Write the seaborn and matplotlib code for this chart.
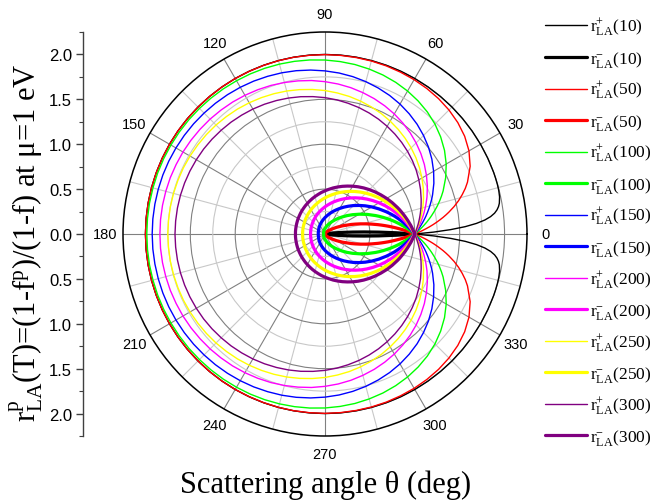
import numpy as np
import pandas as pd
import matplotlib
matplotlib.use("Agg")
import matplotlib.pyplot as plt
import seaborn as sns
from matplotlib.ticker import FixedLocator

sns.set_theme(style="white")
plt.rcParams["font.family"] = ["Liberation Serif", "DejaVu Serif"]
plt.rcParams["mathtext.fontset"] = "custom"
plt.rcParams["mathtext.rm"] = "Liberation Serif"
plt.rcParams["mathtext.it"] = "Liberation Serif:italic"
plt.rcParams["mathtext.bf"] = "Liberation Serif:bold"
for key in ("text.color", "axes.labelcolor", "xtick.color", "ytick.color"):
    plt.rcParams[key] = "black"

# scattering angle (deg) for the upper half; the lower half is its mirror image
angles = [0, 1, 2, 3, 4, 5, 6, 7, 8, 9, 10, 12, 14, 16, 18,
          20, 25, 30, 35, 40, 45, 50, 55, 60, 65, 70, 75, 80, 85,
          90, 95, 100, 105, 110, 115, 120, 125, 130, 135, 140, 145, 150,
          155, 160, 165, 170, 175, 180]
temps = [10, 50, 100, 150, 200, 250, 300]
colors = ["#000000", "#ff0000", "#00ff00", "#0000ff", "#ff00ff", "#ffff00", "#800080"]

r_plus_10 = [1.000, 1.210, 1.401, 1.564, 1.691, 1.787, 1.855, 1.903, 1.935, 1.957,
             1.972, 1.988, 1.995, 1.998, 1.999,
             2.000, 2.000, 2.000, 2.000, 2.000, 2.000, 2.000, 2.000, 2.000, 2.000,
             2.000, 2.000, 2.000, 2.000,
             2.000, 2.000, 2.000, 2.000, 2.000, 2.000, 2.000, 2.000, 2.000, 2.000,
             2.000, 2.000, 2.000, 2.000, 2.000, 2.000, 2.000, 2.000, 2.000]
r_minus_10 = [1.000, 0.790, 0.599, 0.436, 0.309, 0.213, 0.145, 0.097, 0.065, 0.043,
              0.028, 0.012, 0.005, 0.002, 0.001,
              0.000, 0.000, 0.000, 0.000, 0.000, 0.000, 0.000, 0.000, 0.000, 0.000,
              0.000, 0.000, 0.000, 0.000,
              0.000, 0.000, 0.000, 0.000, 0.000, 0.000, 0.000, 0.000, 0.000, 0.000,
              0.000, 0.000, 0.000, 0.000, 0.000, 0.000, 0.000, 0.000, 0.000]
r_plus_50 = [1.000, 1.043, 1.085, 1.127, 1.169, 1.210, 1.250, 1.289, 1.328, 1.365,
             1.401, 1.470, 1.533, 1.590, 1.643,
             1.689, 1.784, 1.852, 1.899, 1.931, 1.953, 1.968, 1.978, 1.985, 1.989,
             1.993, 1.995, 1.996, 1.997,
             1.998, 1.998, 1.999, 1.999, 1.999, 1.999, 2.000, 2.000, 2.000, 2.000,
             2.000, 2.000, 2.000, 2.000, 2.000, 2.000, 2.000, 2.000, 2.000]
r_minus_50 = [1.000, 0.957, 0.915, 0.873, 0.831, 0.790, 0.750, 0.711, 0.672, 0.635,
              0.599, 0.530, 0.467, 0.410, 0.357,
              0.311, 0.216, 0.148, 0.101, 0.069, 0.047, 0.032, 0.022, 0.015, 0.011,
              0.007, 0.005, 0.004, 0.003,
              0.002, 0.002, 0.001, 0.001, 0.001, 0.001, 0.000, 0.000, 0.000, 0.000,
              0.000, 0.000, 0.000, 0.000, 0.000, 0.000, 0.000, 0.000, 0.000]
r_plus_100 = [1.000, 1.021, 1.043, 1.064, 1.085, 1.106, 1.127, 1.148, 1.168, 1.189,
              1.209, 1.249, 1.289, 1.327, 1.364,
              1.400, 1.483, 1.559, 1.625, 1.682, 1.732, 1.774, 1.809, 1.839, 1.864,
              1.885, 1.902, 1.917, 1.928,
              1.938, 1.946, 1.953, 1.959, 1.964, 1.968, 1.971, 1.974, 1.976, 1.978,
              1.980, 1.981, 1.982, 1.983, 1.984, 1.984, 1.985, 1.985, 1.985]
r_minus_100 = [1.000, 0.979, 0.958, 0.936, 0.915, 0.894, 0.873, 0.852, 0.832, 0.811,
               0.791, 0.751, 0.711, 0.673, 0.636,
               0.600, 0.517, 0.441, 0.375, 0.318, 0.268, 0.226, 0.191, 0.161, 0.136,
               0.115, 0.098, 0.084, 0.072,
               0.062, 0.054, 0.047, 0.041, 0.036, 0.032, 0.029, 0.026, 0.024, 0.022,
               0.020, 0.019, 0.018, 0.017, 0.016, 0.016, 0.015, 0.015, 0.015]
r_plus_150 = [1.000, 1.014, 1.028, 1.043, 1.057, 1.071, 1.085, 1.099, 1.113, 1.127,
              1.141, 1.168, 1.195, 1.222, 1.249,
              1.275, 1.338, 1.397, 1.453, 1.505, 1.552, 1.596, 1.635, 1.671, 1.703,
              1.731, 1.757, 1.780, 1.800,
              1.817, 1.833, 1.847, 1.859, 1.869, 1.879, 1.887, 1.894, 1.900, 1.905,
              1.910, 1.914, 1.917, 1.920, 1.922, 1.923, 1.924, 1.925, 1.925]
r_minus_150 = [1.000, 0.986, 0.972, 0.958, 0.943, 0.929, 0.915, 0.901, 0.887, 0.873,
               0.859, 0.832, 0.805, 0.778, 0.751,
               0.725, 0.662, 0.603, 0.547, 0.495, 0.448, 0.404, 0.365, 0.329, 0.297,
               0.269, 0.243, 0.220, 0.200,
               0.183, 0.167, 0.153, 0.141, 0.131, 0.121, 0.113, 0.106, 0.100, 0.095,
               0.090, 0.086, 0.083, 0.080, 0.078, 0.077, 0.076, 0.075, 0.075]
r_plus_200 = [1.000, 1.011, 1.021, 1.032, 1.043, 1.053, 1.064, 1.074, 1.085, 1.095,
              1.106, 1.127, 1.147, 1.168, 1.188,
              1.209, 1.258, 1.305, 1.351, 1.394, 1.435, 1.474, 1.510, 1.544, 1.575,
              1.604, 1.630, 1.655, 1.677,
              1.697, 1.716, 1.732, 1.747, 1.761, 1.773, 1.784, 1.794, 1.802, 1.810,
              1.816, 1.822, 1.827, 1.830, 1.834, 1.836, 1.838, 1.839, 1.839]
r_minus_200 = [1.000, 0.989, 0.979, 0.968, 0.958, 0.947, 0.936, 0.926, 0.915, 0.905,
               0.894, 0.873, 0.853, 0.832, 0.812,
               0.792, 0.742, 0.695, 0.649, 0.606, 0.565, 0.526, 0.490, 0.456, 0.425,
               0.396, 0.370, 0.345, 0.323,
               0.303, 0.284, 0.268, 0.253, 0.239, 0.227, 0.216, 0.206, 0.198, 0.190,
               0.184, 0.178, 0.174, 0.170, 0.166, 0.164, 0.162, 0.161, 0.161]
r_plus_250 = [1.000, 1.009, 1.017, 1.026, 1.034, 1.043, 1.051, 1.059, 1.068, 1.076,
              1.085, 1.102, 1.118, 1.135, 1.151,
              1.168, 1.208, 1.247, 1.285, 1.322, 1.357, 1.390, 1.422, 1.452, 1.481,
              1.507, 1.532, 1.556, 1.577,
              1.598, 1.616, 1.633, 1.649, 1.663, 1.676, 1.688, 1.699, 1.708, 1.717,
              1.724, 1.730, 1.736, 1.741, 1.744, 1.747, 1.749, 1.750, 1.751]
r_minus_250 = [1.000, 0.992, 0.983, 0.975, 0.966, 0.958, 0.949, 0.941, 0.932, 0.924,
               0.915, 0.899, 0.882, 0.865, 0.849,
               0.832, 0.792, 0.753, 0.715, 0.678, 0.643, 0.610, 0.578, 0.548, 0.519,
               0.493, 0.468, 0.444, 0.423,
               0.403, 0.384, 0.367, 0.351, 0.337, 0.324, 0.312, 0.301, 0.292, 0.283,
               0.276, 0.270, 0.264, 0.259, 0.256, 0.253, 0.251, 0.250, 0.249]
r_plus_300 = [1.000, 1.007, 1.014, 1.021, 1.028, 1.035, 1.043, 1.050, 1.057, 1.064,
              1.071, 1.085, 1.099, 1.113, 1.126,
              1.140, 1.174, 1.207, 1.240, 1.271, 1.301, 1.330, 1.358, 1.385, 1.411,
              1.435, 1.458, 1.479, 1.500,
              1.519, 1.536, 1.553, 1.568, 1.582, 1.595, 1.607, 1.617, 1.627, 1.635,
              1.643, 1.650, 1.655, 1.660, 1.664, 1.667, 1.669, 1.670, 1.671]
r_minus_300 = [1.000, 0.993, 0.986, 0.979, 0.972, 0.965, 0.958, 0.950, 0.943, 0.936,
               0.929, 0.915, 0.901, 0.887, 0.874,
               0.860, 0.826, 0.793, 0.760, 0.729, 0.699, 0.670, 0.642, 0.615, 0.589,
               0.565, 0.542, 0.521, 0.500,
               0.481, 0.464, 0.447, 0.432, 0.418, 0.405, 0.393, 0.383, 0.373, 0.365,
               0.357, 0.350, 0.345, 0.340, 0.336, 0.333, 0.331, 0.330, 0.329]

r_plus = [r_plus_10, r_plus_50, r_plus_100, r_plus_150, r_plus_200, r_plus_250, r_plus_300]
r_minus = [r_minus_10, r_minus_50, r_minus_100, r_minus_150, r_minus_200, r_minus_250, r_minus_300]

angle_ticks = [0, 30, 60, 90, 120, 150, 180, 210, 240, 270, 300, 330]
radial_ticks = [-2.0, -1.5, -1.0, -0.5, 0.0, 0.5, 1.0, 1.5, 2.0]

# full closed curve: 0..180 followed by the mirrored half 180..360
theta_deg = angles + [360 - a for a in angles[::-1]]

rows = []
for T, rp, rm in zip(temps, r_plus, r_minus):
    for sign, vals in (("+", rp), ("-", rm)):
        full = vals + vals[::-1]
        for th, r in zip(theta_deg, full):
            rows.append({"T": T, "sign": sign, "theta": np.deg2rad(th), "r": r})
df = pd.DataFrame(rows)

W, H = 655, 502
fig = plt.figure(figsize=(W / 100, H / 100), dpi=100)

ax = fig.add_axes([123 / W, 65 / H, 404 / W, 404 / H], projection="polar")
ax.set_axisbelow(True)

for T, c in zip(temps, colors):
    for sign, lw in (("+", 1.0), ("-", 2.3)):
        sub = df[(df["T"] == T) & (df["sign"] == sign)]
        sns.lineplot(data=sub, x="theta", y="r", ax=ax, sort=False, estimator=None,
                     color=c, linewidth=lw,
                     label=r"$\mathrm{r}^{%s}_{\mathrm{LA}}$(%d)" % (sign, T))

handles, labels = ax.get_legend_handles_labels()
if ax.get_legend() is not None:
    ax.get_legend().remove()

ax.set_xlabel("")
ax.set_ylabel("")
ax.set_ylim(0, 2.25)
ax.set_yticks([0.5, 1.0, 1.5, 2.0])
ax.set_yticklabels([])
ax.yaxis.set_minor_locator(FixedLocator([0.25, 0.75, 1.25, 1.75]))
ax.set_xticks(np.deg2rad(angle_ticks))
ax.set_xticklabels([str(a) for a in angle_ticks], fontfamily="Liberation Sans",
                   fontsize=10.5, color="black")
ax.xaxis.set_minor_locator(FixedLocator(np.deg2rad(np.arange(15, 360, 30))))
ax.grid(True, which="major", color="#808080", linewidth=0.8)
ax.grid(True, which="minor", color="#c8c8c8", linewidth=0.8)
ax.tick_params(axis="x", which="major", direction="in", length=9, width=1.0,
               color="black", pad=6)
ax.tick_params(axis="x", which="minor", direction="in", length=5, width=0.8,
               color="#606060")
ax.tick_params(axis="y", which="both", length=0)
ax.spines["polar"].set_color("black")
ax.spines["polar"].set_linewidth(1.1)

# vertical radial scale on the left, mirrored about the centre
lax = fig.add_axes([83 / W, 65 / H, 0.0001, 404 / H])
lax.set_ylim(-2.25, 2.25)
lax.set_xticks([])
for s in ("top", "right", "bottom"):
    lax.spines[s].set_visible(False)
lax.spines["left"].set_color("#404040")
lax.spines["left"].set_linewidth(1.0)
lax.set_yticks(radial_ticks)
lax.set_yticklabels(["%.1f" % abs(v) for v in radial_ticks],
                    fontfamily="Liberation Sans", fontsize=12, color="black")
lax.yaxis.set_minor_locator(FixedLocator(np.arange(-2.25, 2.26, 0.25)))
lax.tick_params(axis="y", which="major", direction="out", length=5, width=1.0,
                color="#404040", pad=3, left=True)
lax.tick_params(axis="y", which="minor", direction="out", length=3, width=0.8,
                color="#404040", left=True)
lax.patch.set_visible(False)

fig.text(26 / W, 1 - 243 / H,
         r"$\mathrm{r}^{\mathrm{p}}_{\mathrm{LA}}$(T)=(1-f$^{\mathrm{p}}$)/(1-f) at μ=1 eV",
         rotation=90, ha="center", va="center", fontsize=22, color="black")
fig.text(326 / W, 1 - 485 / H, "Scattering angle θ (deg)",
         ha="center", va="center", fontsize=22, color="black")

fig.legend(handles, labels, loc="upper left", bbox_to_anchor=(545 / W, 1 - 17 / H),
           frameon=False, fontsize=12.5, handlelength=2.4, handletextpad=0.2,
           labelspacing=0.6, borderpad=0, borderaxespad=0, labelcolor="black")

fig.savefig("out.png", dpi=100)
